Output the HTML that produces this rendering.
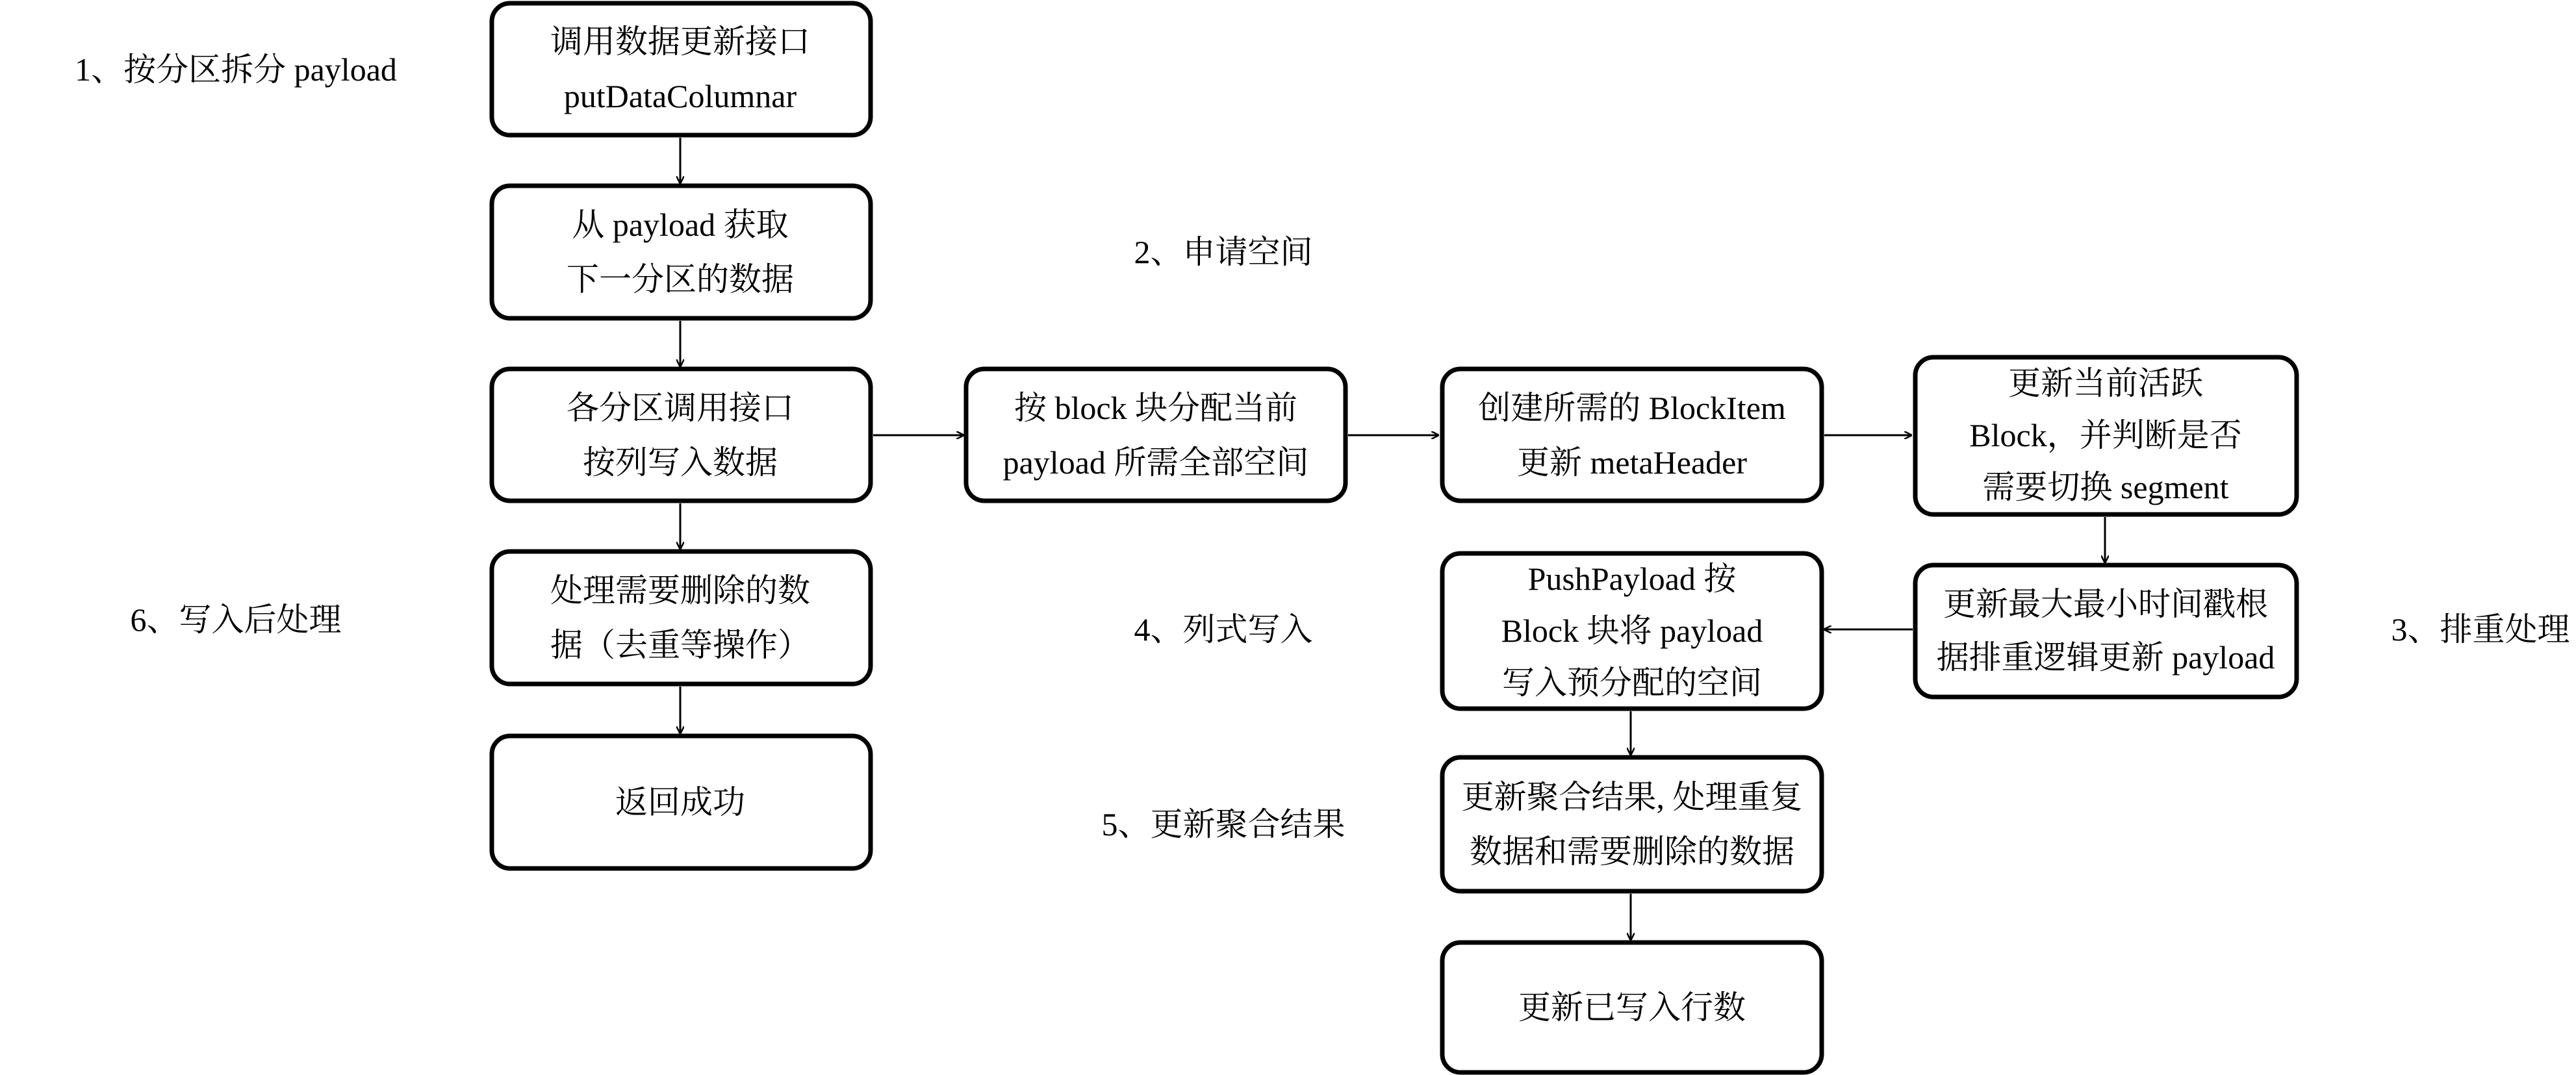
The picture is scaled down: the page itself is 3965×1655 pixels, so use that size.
<!DOCTYPE html>
<html><head><meta charset="utf-8"><style>
html,body{margin:0;padding:0;background:#fff;}
svg{display:block;}
text{font-family:"Liberation Serif","Noto Serif CJK SC",serif;font-size:50px;fill:#000;text-anchor:middle;dominant-baseline:central;}
rect{fill:#fff;stroke:#000;stroke-width:7;}
line{stroke:#000;stroke-width:3;}
</style></head><body>
<svg width="3965" height="1655" viewBox="0 0 3965 1655" xmlns="http://www.w3.org/2000/svg">
<defs><marker id="a" markerWidth="12" markerHeight="12" refX="11" refY="6" orient="auto" markerUnits="userSpaceOnUse"><path d="M0,0 L12,6 L0,12" fill="none" stroke="#000" stroke-width="2.5"/></marker></defs>
<g transform="translate(-7,0)">
<!-- col1 -->
<rect x="764" y="5" width="583" height="203" rx="28"/>
<rect x="764" y="286" width="583" height="204" rx="28"/>
<rect x="764" y="568" width="583" height="203" rx="28"/>
<rect x="764" y="849" width="583" height="204" rx="28"/>
<rect x="764" y="1133" width="583" height="204" rx="28"/>
<line x1="1054" y1="212" x2="1054" y2="282" marker-end="url(#a)"/>
<line x1="1054" y1="494" x2="1054" y2="564" marker-end="url(#a)"/>
<line x1="1054" y1="775" x2="1054" y2="845" marker-end="url(#a)"/>
<line x1="1054" y1="1057" x2="1054" y2="1129" marker-end="url(#a)"/>
<text x="1054" y="64">调用数据更新接口</text><text x="1054" y="148">putDataColumnar</text>
<text x="1054" y="346">从 payload 获取</text><text x="1054" y="430">下一分区的数据</text>
<text x="1054" y="628">各分区调用接口</text><text x="1054" y="712">按列写入数据</text>
<text x="1054" y="909">处理需要删除的数</text><text x="1054" y="993">据（去重等操作）</text>
<text x="1054" y="1235">返回成功</text>
<!-- col2 -->
<rect x="1494" y="568" width="584" height="203" rx="28"/>
<text x="1786" y="628">按 block 块分配当前</text><text x="1786" y="712">payload 所需全部空间</text>
<line x1="1351" y1="670" x2="1490" y2="670" marker-end="url(#a)"/>
<line x1="2082" y1="670" x2="2221" y2="670" marker-end="url(#a)"/>
<!-- col3 -->
<rect x="2227" y="568" width="584" height="203" rx="28"/>
<rect x="2227" y="852" width="584" height="239" rx="28"/>
<rect x="2227" y="1166" width="584" height="206" rx="28"/>
<rect x="2227" y="1451" width="584" height="200" rx="28"/>
<text x="2519" y="628">创建所需的 BlockItem</text><text x="2519" y="712">更新 metaHeader</text>
<text x="2519" y="891">PushPayload 按</text><text x="2519" y="971">Block 块将 payload</text><text x="2519" y="1051">写入预分配的空间</text>
<text x="2519" y="1227">更新聚合结果, 处理重复</text><text x="2519" y="1311">数据和需要删除的数据</text>
<text x="2519" y="1551">更新已写入行数</text>
<line x1="2517" y1="1095" x2="2517" y2="1162" marker-end="url(#a)"/>
<line x1="2517" y1="1376" x2="2517" y2="1447" marker-end="url(#a)"/>
<line x1="2815" y1="670" x2="2949" y2="670" marker-end="url(#a)"/>
<!-- col4 -->
<rect x="2955" y="550" width="587" height="242" rx="28"/>
<rect x="2955" y="870" width="587" height="203" rx="28"/>
<text x="3248" y="590">更新当前活跃</text><text x="3248" y="670">Block，并判断是否</text><text x="3248" y="750">需要切换 segment</text>
<text x="3248" y="930">更新最大最小时间戳根</text><text x="3248" y="1012">据排重逻辑更新 payload</text>
<line x1="3247" y1="796" x2="3247" y2="866" marker-end="url(#a)"/>
<line x1="2951" y1="969" x2="2815" y2="969" marker-end="url(#a)"/>
</g>
<!-- labels -->
<text x="363" y="107">1、按分区拆分 payload</text>
<text x="1883" y="388">2、申请空间</text>
<text x="363" y="954">6、写入后处理</text>
<text x="1883" y="969">4、列式写入</text>
<text x="1883" y="1269">5、更新聚合结果</text>
<text x="3818" y="969">3、排重处理</text>
</svg>
</body></html>
